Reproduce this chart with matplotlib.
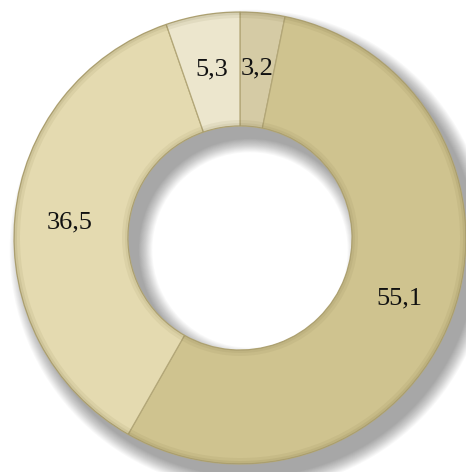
import numpy as np
import matplotlib
matplotlib.use("Agg")
import matplotlib.pyplot as plt

# Data (clockwise from 12 o'clock)
values = [3.2, 55.1, 36.5, 5.3]
labels = ["3,2", "55,1", "36,5", "5,3"]
colors = ["#d5cba5", "#cfc38f", "#e4dab0", "#ece6cd"]
edge = "#b3a778"

W, H = 466, 472
cx, cy = 240, H - 238
R = 226
ring = 114

fig = plt.figure(figsize=(W / 100, H / 100), dpi=100)
ax = fig.add_axes([0, 0, 1, 1])
ax.set_xlim(0, W)
ax.set_ylim(0, H)
ax.set_aspect("equal")
ax.axis("off")

# soft drop shadow towards the lower right
for k in range(16):
    grow = 16 - k
    ax.pie([1], radius=R + grow * 0.9, center=(cx + 10, cy - 12),
           colors=["#000000"], startangle=90,
           wedgeprops=dict(width=ring + grow * 1.8, alpha=0.022, linewidth=0))

# main donut
wedges, texts = ax.pie(values, labels=labels, colors=colors, startangle=90,
                       counterclock=False, radius=R, center=(cx, cy),
                       labeldistance=0.755,
                       wedgeprops=dict(width=ring, edgecolor=edge, linewidth=0.9),
                       textprops=dict(fontsize=19, family="Liberation Serif",
                                      color="#111111", ha="center", va="center"))

# bevel-like darker rims on outer and inner edges
for r, w, a in [(R, 6, 0.08), (R, 3, 0.10), (R - ring + 6, 6, 0.07), (R - ring + 3, 3, 0.08)]:
    ax.pie([1], radius=r, center=(cx, cy), colors=["#6b5f30"], startangle=90,
           wedgeprops=dict(width=w, alpha=a, linewidth=0))

ax.set_xlim(0, W)
ax.set_ylim(0, H)
fig.savefig("out.png", dpi=100)
